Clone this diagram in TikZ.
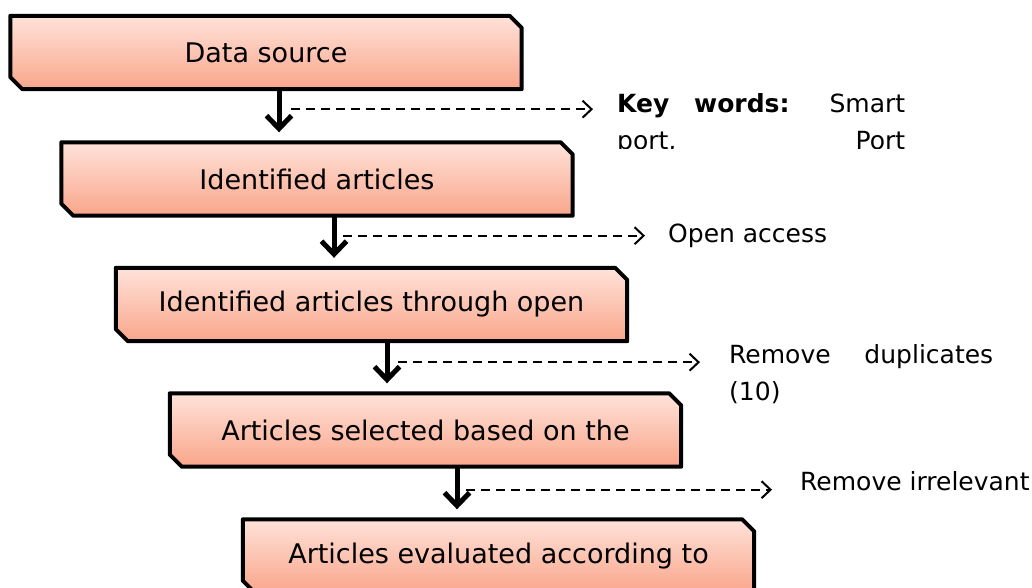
\documentclass[tikz,border=0pt]{standalone}
\usepackage{fontspec}
\setmainfont{DejaVu Sans}
\usetikzlibrary{arrows.meta, positioning, calc, backgrounds}
\definecolor{stagetop}{HTML}{FFE2DA}
\definecolor{stagebottom}{HTML}{F9A68A}

\tikzset{
  stage/.style={minimum width=511pt, minimum height=73pt, inner sep=0pt, font=\fontsize{27}{32}\selectfont},
  stageline/.style={draw=black, line width=4pt, line join=round, top color=stagetop, bottom color=stagebottom},
  flow/.style={line width=5pt, -{Straight Barb[length=13pt, width=25pt]}, shorten >=10pt},
  skip/.style={line width=2pt, dash pattern=on 9pt off 6pt, -{Straight Barb[length=9pt, width=17pt]}},
  note/.style={inner sep=0pt, font=\fontsize{25}{37}\selectfont, align=left}
}

\begin{document}
\begin{tikzpicture}[x=1pt, y=-1pt]
  \useasboundingbox (0,0) rectangle (1032,588);
  \clip (0,0) rectangle (1032,588);

  % etapas del proceso de seleccion
  \node[stage] (b1) at (266,52.5) {Data source};
  \node[stage] (b2) at (317,179) {Identified articles};
  \node[stage] (b3) at (371.5,304.5) {Identified articles through open};
  \node[stage] (b4) at (425.5,430) {Articles selected based on the};
  \node[stage] (b5) at (498.5,556) {Articles evaluated according to};

  % contorno con esquinas cortadas
  \begin{scope}[on background layer]
    \foreach \b in {b1,b2,b3,b4,b5}
      \shade[stageline] (\b.north west) -- ([xshift=-12pt]\b.north east) -- ([yshift=-12pt]\b.north east)
        -- (\b.south east) -- ([xshift=12pt]\b.south west) -- ([yshift=12pt]\b.south west) -- cycle;
  \end{scope}

  % notas al costado
  \begin{scope}
    \clip (600,80) rectangle (1032,149);
    \node[note, anchor=north west] (k1) at (617,93) {\makebox[288pt][s]{\textbf{Key words:} Smart}\\\makebox[288pt][s]{port, Port}};
  \end{scope}
  \node[note, anchor=west] (k2) at (668,236) {Open access};
  \begin{scope}
    \clip (700,330) rectangle (1032,405);
    \node[note, anchor=north west] (k3) at (729,344) {\makebox[264pt][s]{Remove duplicates}\\(10)};
  \end{scope}
  \node[note, anchor=west] (k4) at (800,481) {Remove irrelevant};

  % flechas principales
  \coordinate (a1) at (279,0);
  \coordinate (a2) at (334,0);
  \coordinate (a3) at (387,0);
  \coordinate (a4) at (457,0);
  \draw[flow] (a1 |- b1.south) -- (a1 |- b2.north);
  \draw[flow] (a2 |- b2.south) -- (a2 |- b3.north);
  \draw[flow] (a3 |- b3.south) -- (a3 |- b4.north);
  \draw[flow] (a4 |- b4.south) -- (a4 |- b5.north);

  % flechas punteadas hacia las notas
  \coordinate (s1) at ($(a1 |- b1.south)+(12,20)$);
  \coordinate (s2) at ($(a2 |- b2.south)+(9,20)$);
  \coordinate (s3) at ($(a3 |- b3.south)+(11,21)$);
  \coordinate (s4) at ($(a4 |- b4.south)+(9,23)$);
  \draw[skip, shorten >=24pt] (s1) -- (s1 -| k1.west);
  \draw[skip, shorten >=23pt] (s2) -- (s2 -| k2.west);
  \draw[skip, shorten >=29pt] (s3) -- (s3 -| k3.west);
  \draw[skip, shorten >=28pt] (s4) -- (s4 -| k4.west);
\end{tikzpicture}
\end{document}
